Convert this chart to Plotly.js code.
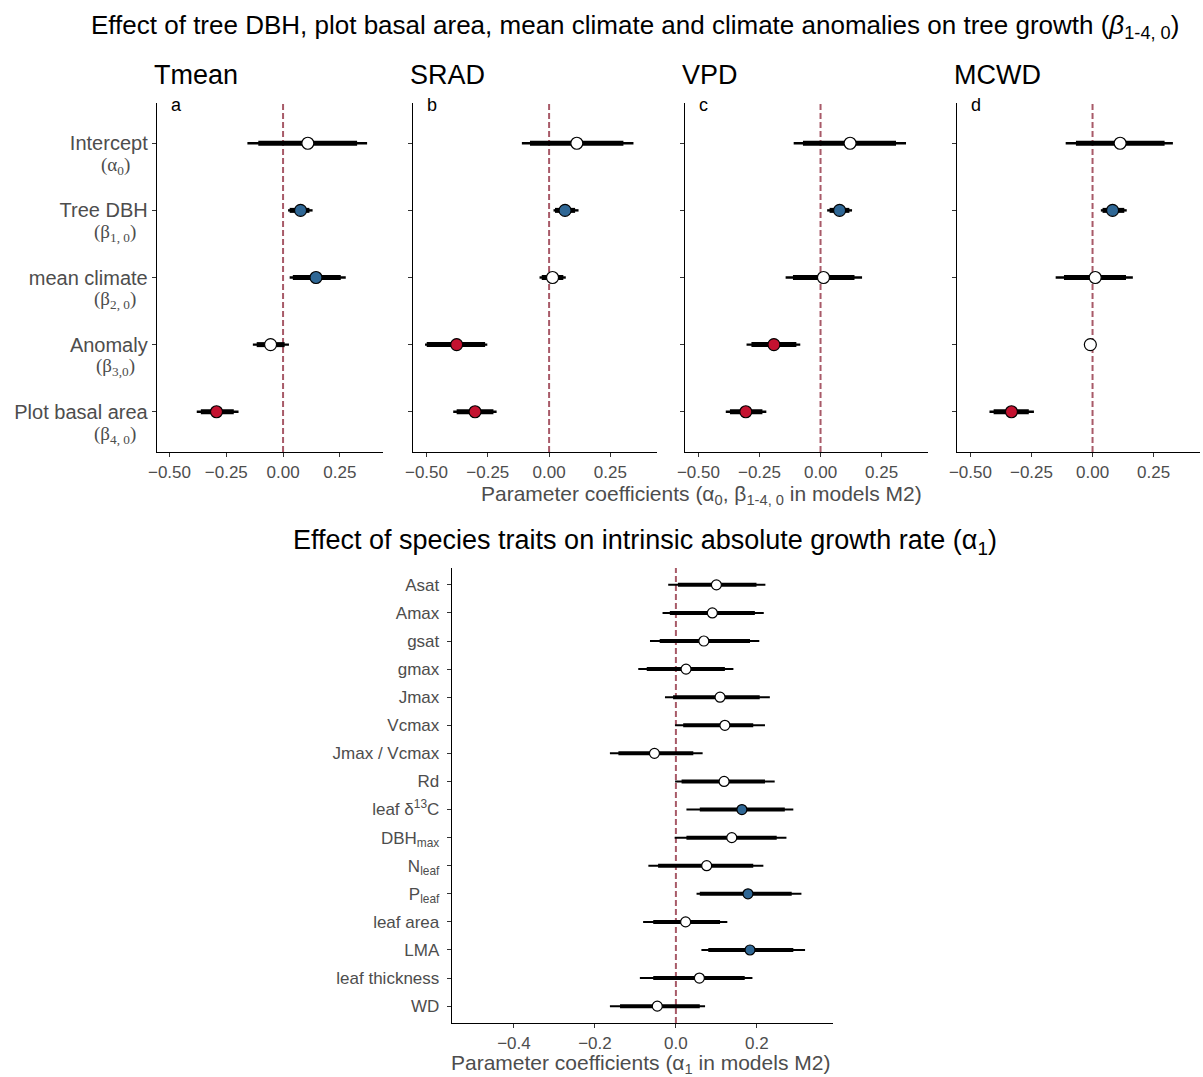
<!DOCTYPE html>
<html><head><meta charset="utf-8">
<script src="https://cdn.plot.ly/plotly-3.0.1.min.js"></script>
<style>html,body{margin:0;padding:0;background:#fff}</style>
</head><body><div id="chart" style="width:1203px;height:1077px"></div>
<script>
// ---------------- data ----------------
const climateVars = ['Tmean', 'SRAD', 'VPD', 'MCWD'];
const panelLetters = ['a', 'b', 'c', 'd'];
const topParams = ['Intercept', 'Tree DBH', 'mean climate', 'Anomaly', 'Plot basal area'];
const topParamSymbols = ['(α<sub>0</sub>)', '(β<sub>1, 0</sub>)', '(β<sub>2, 0</sub>)', '(β<sub>3,0</sub>)', '(β<sub>4, 0</sub>)'];

// Tmean
const tmeanMed   = [0.109, 0.077, 0.145, -0.055, -0.293];
const tmeanInLo  = [-0.109, 0.029, 0.043, -0.116, -0.362];
const tmeanInHi  = [0.326, 0.116, 0.254, 0.007, -0.217];
const tmeanOutLo = [-0.157, 0.022, 0.029, -0.133, -0.380];
const tmeanOutHi = [0.370, 0.130, 0.276, 0.026, -0.196];
// SRAD
const sradMed   = [0.113, 0.065, 0.014, -0.377, -0.302];
const sradInLo  = [-0.078, 0.024, -0.030, -0.499, -0.377];
const sradInHi  = [0.303, 0.106, 0.058, -0.261, -0.227];
const sradOutLo = [-0.111, 0.018, -0.039, -0.506, -0.391];
const sradOutHi = [0.344, 0.120, 0.068, -0.252, -0.214];
// VPD
const vpdMed   = [0.121, 0.078, 0.012, -0.191, -0.306];
const vpdInLo  = [-0.072, 0.037, -0.113, -0.283, -0.371];
const vpdInHi  = [0.309, 0.118, 0.139, -0.099, -0.238];
const vpdOutLo = [-0.110, 0.027, -0.143, -0.303, -0.388];
const vpdOutHi = [0.350, 0.129, 0.170, -0.083, -0.222];
// MCWD
const mcwdMed   = [0.113, 0.082, 0.011, -0.009, -0.332];
const mcwdInLo  = [-0.068, 0.041, -0.117, -0.020, -0.405];
const mcwdInHi  = [0.295, 0.130, 0.137, 0.004, -0.261];
const mcwdOutLo = [-0.110, 0.034, -0.151, -0.027, -0.422];
const mcwdOutHi = [0.329, 0.140, 0.165, 0.011, -0.240];

const topTicks = [-0.5, -0.25, 0, 0.25];

// species traits
const traits = ['Asat', 'Amax', 'gsat', 'gmax', 'Jmax', 'Vcmax', 'Jmax / Vcmax', 'Rd',
  'leaf δ<sup>13</sup>C', 'DBH<sub>max</sub>', 'N<sub>leaf</sub>', 'P<sub>leaf</sub>',
  'leaf area', 'LMA', 'leaf thickness', 'WD'];
const traitMed   = [0.100, 0.090, 0.069, 0.025, 0.109, 0.121, -0.053, 0.119, 0.163, 0.138, 0.076, 0.178, 0.024, 0.183, 0.058, -0.046];
const traitInLo  = [0.005, -0.015, -0.040, -0.072, -0.007, 0.018, -0.142, 0.014, 0.059, 0.026, -0.044, 0.059, -0.056, 0.080, -0.056, -0.138];
const traitInHi  = [0.199, 0.195, 0.183, 0.121, 0.207, 0.191, 0.043, 0.220, 0.269, 0.249, 0.191, 0.286, 0.109, 0.290, 0.170, 0.059];
const traitOutLo = [-0.019, -0.033, -0.064, -0.093, -0.027, -0.002, -0.163, -0.002, 0.026, -0.003, -0.068, 0.051, -0.081, 0.063, -0.089, -0.163];
const traitOutHi = [0.221, 0.217, 0.206, 0.142, 0.232, 0.220, 0.066, 0.244, 0.290, 0.273, 0.216, 0.310, 0.127, 0.319, 0.189, 0.072];
const bottomTicks = [-0.4, -0.2, 0, 0.2];

// ---------------- drawing ----------------
const W = 1203, H = 1077;
const fx = p => p / W;
const fy = p => 1 - p / H;
const BLUE = '#2f6795', RED = '#c41230', WHITE = '#ffffff';
const GREY = '#4d4d4d';
const FONT = 'Liberation Sans, Arial, sans-serif';

function fillColor(lo, hi) {
  return lo.map((l, i) => (l > 0 ? BLUE : (hi[i] < 0 ? RED : WHITE)));
}
function segs(lo, hi) {
  const x = [], y = [];
  lo.forEach((l, i) => { x.push(l, hi[i], null); y.push(i + 1, i + 1, null); });
  return {x, y};
}

const topData = [
  {med: tmeanMed, inLo: tmeanInLo, inHi: tmeanInHi, outLo: tmeanOutLo, outHi: tmeanOutHi},
  {med: sradMed, inLo: sradInLo, inHi: sradInHi, outLo: sradOutLo, outHi: sradOutHi},
  {med: vpdMed, inLo: vpdInLo, inHi: vpdInHi, outLo: vpdOutLo, outHi: vpdOutHi},
  {med: mcwdMed, inLo: mcwdInLo, inHi: mcwdInHi, outLo: mcwdOutLo, outHi: mcwdOutHi}
];
const topXpix = [[157, 383], [413, 657], [685, 928], [957, 1200]];
const topYpix = [103, 452];
const botXpix = [452, 833];
const botYpix = [568, 1023];

const traces = [];
const layout = {
  width: W, height: H,
  margin: {l: 0, r: 0, t: 0, b: 0},
  paper_bgcolor: '#fff', plot_bgcolor: 'rgba(0,0,0,0)',
  showlegend: false,
  font: {family: FONT, color: GREY},
  annotations: [], shapes: []
};

function addPanel(idx, d, xpix, ypix, opts) {
  const xa = 'x' + (idx === 1 ? '' : idx), ya = 'y' + (idx === 1 ? '' : idx);
  const thin = segs(d.outLo, d.outHi), thick = segs(d.inLo, d.inHi);
  traces.push({type: 'scatter', mode: 'lines', x: thin.x, y: thin.y, xaxis: xa, yaxis: ya,
    line: {color: '#000', width: opts.thinW}, hoverinfo: 'skip'});
  traces.push({type: 'scatter', mode: 'lines', x: thick.x, y: thick.y, xaxis: xa, yaxis: ya,
    line: {color: '#000', width: opts.thickW}, hoverinfo: 'skip'});
  traces.push({type: 'scatter', mode: 'markers', x: d.med, y: d.med.map((_, i) => i + 1), xaxis: xa, yaxis: ya,
    marker: {size: opts.ms, color: fillColor(d.outLo, d.outHi), line: {color: '#000', width: 1.2}}});
  const n = d.med.length;
  layout['xaxis' + (idx === 1 ? '' : idx)] = {
    domain: [fx(xpix[0]), fx(xpix[1])], anchor: ya, range: opts.xrange,
    showline: true, linecolor: '#000', linewidth: 1.3, zeroline: false, showgrid: false,
    ticks: 'outside', ticklen: 4, tickcolor: '#333', tickwidth: 1,
    tickvals: opts.tickvals, tickformat: opts.tickformat,
    tickfont: {size: opts.tickSize, color: GREY, family: FONT}
  };
  layout['yaxis' + (idx === 1 ? '' : idx)] = {
    domain: [fy(ypix[1]), fy(ypix[0])], anchor: xa, range: [n + 0.6, 0.4],
    showline: true, linecolor: '#000', linewidth: 1.3, zeroline: false, showgrid: false,
    ticks: 'outside', ticklen: 4, tickcolor: '#333', tickwidth: 1,
    ticklabelstandoff: opts.standoff || 0,
    tickvals: d.med.map((_, i) => i + 1),
    ticktext: opts.labels || d.med.map(() => ''),
    showticklabels: !!opts.labels,
    tickfont: {size: opts.labelSize, color: GREY, family: FONT}
  };
  layout.shapes.push({type: 'line', xref: xa, x0: 0, x1: 0, yref: ya + ' domain', y0: 0, y1: 1,
    line: {color: '#a85a68', width: 2, dash: '6px,3px'}, layer: 'below'});
}

topData.forEach((d, k) => {
  addPanel(k + 1, d, topXpix[k], topYpix, {
    thinW: 2.4, thickW: 5, ms: 12, xrange: [-0.555, 0.44], tickvals: topTicks, tickformat: '.2f',
    tickSize: 17, labelSize: 20, labels: k === 0 ? topParams : null
  });
  layout.annotations.push({xref: 'paper', yref: 'paper', x: fx(topXpix[k][0] - 5), y: fy(75),
    xanchor: 'left', yanchor: 'middle', text: climateVars[k], showarrow: false,
    font: {size: 27, color: '#000', family: FONT}});
  layout.annotations.push({xref: 'paper', yref: 'paper', x: fx(topXpix[k][0] + 12), y: fy(105),
    xanchor: 'left', yanchor: 'middle', text: panelLetters[k], showarrow: false,
    font: {size: 18, color: '#000', family: FONT}});
});
topParamSymbols.forEach((s, i) => {
  layout.annotations.push({xref: 'paper', yref: 'y', x: fx(115), y: i + 1.34,
    xanchor: 'center', yanchor: 'middle', text: s, showarrow: false,
    font: {size: 19, color: GREY, family: 'Liberation Serif, serif'}});
});

addPanel(5, {med: traitMed, inLo: traitInLo, inHi: traitInHi, outLo: traitOutLo, outHi: traitOutHi},
  botXpix, botYpix, {
    thinW: 2, thickW: 4, ms: 10, xrange: [-0.553, 0.388], tickvals: bottomTicks, tickformat: '.1f',
    tickSize: 17, labelSize: 17, labels: traits, standoff: 4
  });

// titles
layout.annotations.push({xref: 'paper', yref: 'paper', x: fx(635), y: fy(27), xanchor: 'center', yanchor: 'middle',
  text: 'Effect of tree DBH, plot basal area, mean climate and climate anomalies on tree growth (<i>β</i><sub>1-4, 0</sub>)',
  showarrow: false, font: {size: 26, color: '#000', family: FONT}});
layout.annotations.push({xref: 'paper', yref: 'paper', x: fx(701), y: fy(495), xanchor: 'center', yanchor: 'middle',
  text: 'Parameter coefficients (α<sub>0</sub>, β<sub>1-4, 0</sub> in models M2)',
  showarrow: false, font: {size: 21, color: GREY, family: FONT}});
layout.annotations.push({xref: 'paper', yref: 'paper', x: fx(645), y: fy(542), xanchor: 'center', yanchor: 'middle',
  text: 'Effect of species traits on intrinsic absolute growth rate (α<sub>1</sub>)',
  showarrow: false, font: {size: 27, color: '#000', family: FONT}});
layout.annotations.push({xref: 'paper', yref: 'paper', x: fx(640), y: fy(1064), xanchor: 'center', yanchor: 'middle',
  text: 'Parameter coefficients (α<sub>1</sub> in models M2)',
  showarrow: false, font: {size: 21, color: GREY, family: FONT}});

Plotly.newPlot('chart', traces, layout, {staticPlot: true, displayModeBar: false});
</script>
</body></html>
